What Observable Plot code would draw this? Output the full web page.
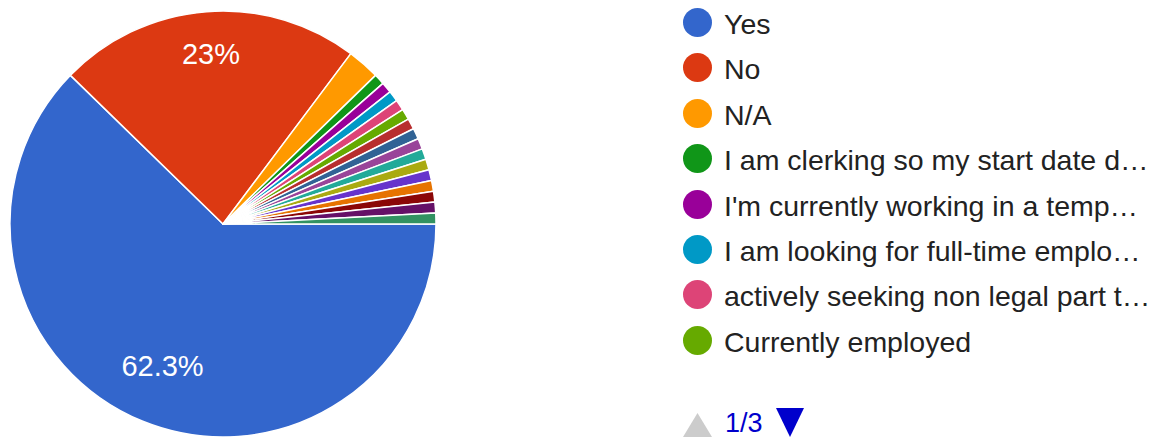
<!DOCTYPE html>
<html>
<head>
<meta charset="utf-8">
<script src="https://cdn.jsdelivr.net/npm/d3@7"></script>
<script src="https://cdn.jsdelivr.net/npm/@observablehq/plot@0.6"></script>
<style>
  html, body { margin: 0; padding: 0; background: #fff; }
  #wrap { position: relative; width: 1168px; height: 437px; overflow: hidden; font-family: "Liberation Sans", Arial, sans-serif; }
  #legend { position: absolute; left: 683px; top: 0; }
  .item { position: absolute; left: 0; height: 30px; white-space: nowrap; }
  .sw { position: absolute; left: 0; width: 29px; height: 29px; border-radius: 50%; }
  .lab { position: absolute; left: 41px; top: 1px; font-size: 28.5px; line-height: 30px; color: #222; }
  #pager { position: absolute; left: 0; top: 408px; }
</style>
</head>
<body>
<div id="wrap">
  <div id="chart"></div>
  <div id="legend"></div>
</div>
<script>
// Categories (as shown in the legend; later pages are not visible)
const categories = [
  "Yes",
  "No",
  "N/A",
  "I am clerking so my start date d…",
  "I'm currently working in a temp…",
  "I am looking for full-time emplo…",
  "actively seeking non legal part t…",
  "Currently employed",
  "Other response 9",
  "Other response 10",
  "Other response 11",
  "Other response 12",
  "Other response 13",
  "Other response 14",
  "Other response 15",
  "Other response 16",
  "Other response 17",
  "Other response 18"
];
// Response counts (122 responses: 76 = 62.3%, 28 = 23%)
const counts = [76, 28, 3, 1, 1, 1, 1, 1, 1, 1, 1, 1, 1, 1, 1, 1, 1, 1];
// Google Charts default palette
const colors = [
  "#3366cc", "#dc3912", "#ff9900", "#109618", "#990099", "#0099c6",
  "#dd4477", "#66aa00", "#b82e2e", "#316395", "#994499", "#22aa99",
  "#aaaa11", "#6633cc", "#e67300", "#8b0707", "#651067", "#329262"
];
const legendPage = "1/3";
const legendShown = 8;

const total = d3.sum(counts);
const data = categories.map((c, i) => ({category: c, count: counts[i], share: counts[i] / total}));

const pie = d3.pie().value(d => d.count).sort(null)
  .startAngle(Math.PI / 2).endAngle(Math.PI / 2 + 2 * Math.PI);
const arcs = pie(data);

const labelData = arcs
  .filter(a => a.data.share > 0.1)
  .map(a => {
    const mid = (a.startAngle + a.endAngle) / 2;
    return {x: Math.sin(mid) * 0.76, y: Math.cos(mid) * 0.76, text: d3.format(".1~%")(a.data.share)};
  });

function pieMark(index, scales, values, dimensions) {
  const cx = scales.x(0), cy = scales.y(0);
  const r = scales.x(1) - scales.x(0);
  const arc = d3.arc().innerRadius(0).outerRadius(r);
  const g = d3.create("svg:g").attr("transform", `translate(${cx},${cy})`);
  g.selectAll("path").data(arcs).join("path")
    .attr("d", arc)
    .attr("fill", d => scales.color(d.data.category))
    .attr("stroke", "#fff")
    .attr("stroke-width", 1.5)
    .attr("stroke-linejoin", "round");
  return g.node();
}

const chart = Plot.plot({
  width: 1168,
  height: 437,
  marginLeft: 10,
  marginRight: 732,
  marginTop: 11,
  marginBottom: 0,
  x: {domain: [-1, 1], axis: null},
  y: {domain: [-1, 1], axis: null},
  color: {domain: categories, range: colors},
  style: {fontFamily: "'Liberation Sans', Arial, sans-serif", background: "#fff"},
  marks: [
    pieMark,
    Plot.text(labelData, {x: "x", y: "y", text: "text", fill: "#fff", fontSize: 29, textAnchor: "middle", dy: -8})
  ]
});
document.getElementById("chart").appendChild(chart);

// Legend (first page)
const legend = d3.select("#legend");
data.slice(0, legendShown).forEach((d, i) => {
  const item = legend.append("div").attr("class", "item").style("top", (8 + i * 45.4) + "px");
  item.append("div").attr("class", "sw").style("background", colors[i]);
  item.append("div").attr("class", "lab").text(d.category);
});
const pager = legend.append("div").attr("id", "pager");
pager.html(`
  <svg width="130" height="30" style="position:absolute;left:0;top:0">
    <polygon points="0,29 14.5,5 29,29" fill="#cccccc"/>
    <text x="42" y="24" font-size="27" fill="#0000cc" font-family="Liberation Sans, Arial, sans-serif">${legendPage}</text>
    <polygon points="93,0 121,0 107,29" fill="#0000cc"/>
  </svg>`);
</script>
</body>
</html>
